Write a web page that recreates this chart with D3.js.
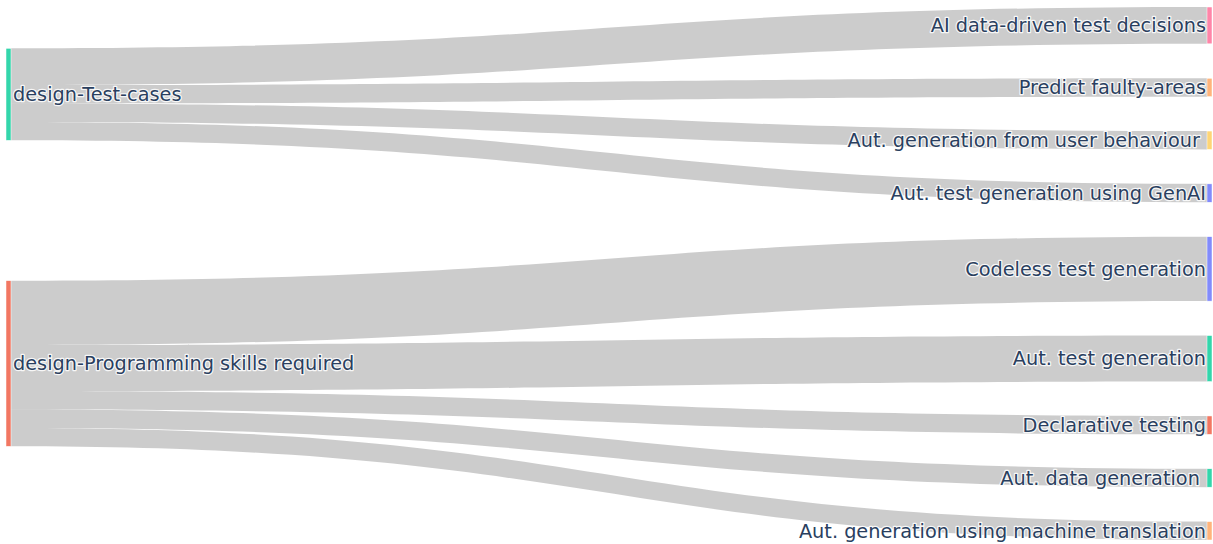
<!DOCTYPE html>
<html>
<head>
<meta charset="utf-8">
<script src="https://cdn.jsdelivr.net/npm/d3@7"></script>
<style>
  html, body { margin: 0; padding: 0; background: #fff; }
  svg { display: block; }
  .lbl { font-family: 'DejaVu Sans', Verdana, sans-serif; font-size: 19.3px; fill: #2a3f5f;
         stroke: rgba(255,255,255,0.85); stroke-width: 2.5px; paint-order: stroke; stroke-linejoin: round; }
</style>
</head>
<body>
<div id="chart"></div>
<script>
// source nodes (left column)
const sources = ['design-Test-cases', 'design-Programming skills required'];
const sourceColors = ['#33d6ab', '#f27762'];

// target nodes (right column), top to bottom
const targets = [
  'AI data-driven test decisions',
  'Predict faulty-areas',
  'Aut. generation from user behaviour ',
  'Aut. test generation using GenAI',
  'Codeless test generation',
  'Aut. test generation',
  'Declarative testing',
  'Aut. data generation ',
  'Aut. generation using machine translation'
];
const targetColors = ['#ff85a8', '#ffb47b', '#fed575', '#828bfb', '#828bfb', '#33d6ab', '#f27762', '#33d6ab', '#ffb47b'];

// links: source index, target index, value
const linkSource = [0, 0, 0, 0, 1, 1, 1, 1, 1];
const linkTarget = [0, 1, 2, 3, 4, 5, 6, 7, 8];
const linkValue  = [4, 2, 2, 2, 7, 5, 2, 2, 2];

const W = 1213, H = 544;
const nodeW = 5;
const colX = { left: 6, right: 1207 };
const yTop = 7, yBottom = 540;
const pad = 34.4;

const svg = d3.select('#chart').append('svg')
  .attr('width', W).attr('height', H);

const total = d3.sum(linkValue);
const ky = (yBottom - yTop - pad * (targets.length - 1)) / total;
const hScale = d3.scaleLinear().domain([0, total]).range([0, ky * total]);

// target nodes stacked
let yy = yTop;
const tNodes = targets.map((name, i) => {
  const v = d3.sum(linkValue.filter((_, k) => linkTarget[k] === i));
  const n = { name, color: targetColors[i], x0: colX.right, y0: yy, y1: yy + hScale(v), value: v };
  yy = n.y1 + pad;
  return n;
});

// source nodes centred on weighted centre of their targets
const sNodes = sources.map((name, i) => {
  const idx = d3.range(linkValue.length).filter(k => linkSource[k] === i);
  const v = d3.sum(idx, k => linkValue[k]);
  const c = d3.sum(idx, k => linkValue[k] * (tNodes[linkTarget[k]].y0 + tNodes[linkTarget[k]].y1) / 2) / v;
  const h = hScale(v);
  return { name, color: sourceColors[i], x0: colX.left, y0: c - h / 2, y1: c + h / 2, value: v };
});

// link geometry
const sOff = sNodes.map(n => n.y0);
const links = d3.range(linkValue.length).map(k => {
  const s = sNodes[linkSource[k]], t = tNodes[linkTarget[k]];
  const h = hScale(linkValue[k]);
  const l = { sy0: sOff[linkSource[k]], ty0: t.y0, h, sx: s.x0 + nodeW, tx: t.x0 };
  sOff[linkSource[k]] += h;
  return l;
});

function linkPath(d) {
  const xm = d3.interpolateNumber(d.sx, d.tx)(0.5);
  const a = d.sy0, b = d.ty0, a2 = d.sy0 + d.h, b2 = d.ty0 + d.h;
  return `M${d.sx},${a}C${xm},${a} ${xm},${b} ${d.tx},${b}` +
         `L${d.tx},${b2}C${xm},${b2} ${xm},${a2} ${d.sx},${a2}Z`;
}

svg.append('g')
  .selectAll('path')
  .data(links)
  .join('path')
  .attr('d', linkPath)
  .attr('fill', 'rgba(0,0,0,0.2)');

const allNodes = sNodes.concat(tNodes);
svg.append('g')
  .selectAll('rect')
  .data(allNodes)
  .join('rect')
  .attr('x', d => d.x0)
  .attr('y', d => d.y0)
  .attr('width', nodeW)
  .attr('height', d => d.y1 - d.y0)
  .attr('fill', d => d.color)
  .attr('stroke', '#fff')
  .attr('stroke-width', 0.5);

svg.append('g')
  .selectAll('text')
  .data(sNodes)
  .join('text')
  .attr('class', 'lbl')
  .attr('x', d => d.x0 + nodeW + 2)
  .attr('y', d => (d.y0 + d.y1) / 2)
  .attr('dy', '0.35em')
  .style('white-space', 'pre')
  .text(d => d.name);

svg.append('g')
  .selectAll('text')
  .data(tNodes)
  .join('text')
  .attr('class', 'lbl')
  .attr('x', d => d.x0 - 1)
  .attr('y', d => (d.y0 + d.y1) / 2)
  .attr('dy', '0.35em')
  .attr('text-anchor', 'end')
  .style('white-space', 'pre')
  .text(d => d.name);
</script>
</body>
</html>
